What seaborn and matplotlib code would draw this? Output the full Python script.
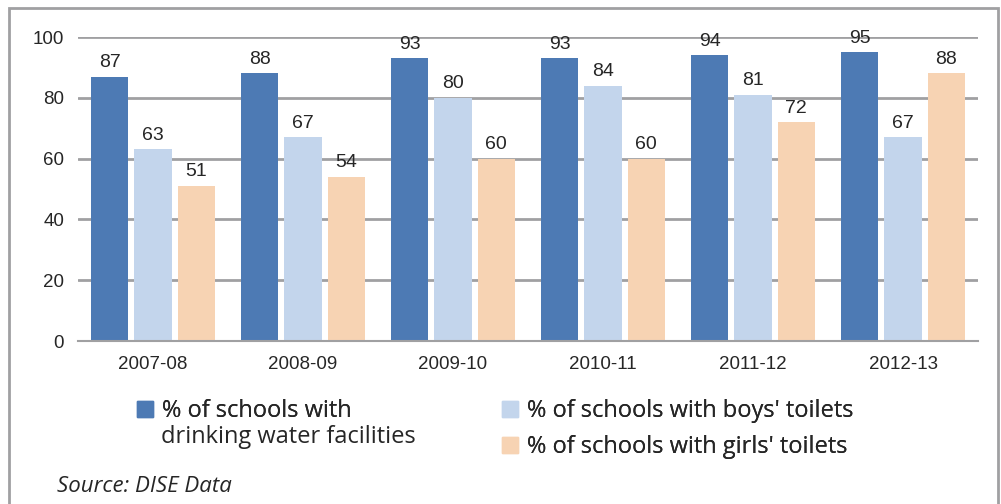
import pandas as pd
import matplotlib
matplotlib.use("Agg")
import matplotlib.pyplot as plt
from matplotlib.patches import Rectangle, Patch
import seaborn as sns

years = ['2007-08', '2008-09', '2009-10', '2010-11', '2011-12', '2012-13']
water = [87, 88, 93, 93, 94, 95]
boys = [63, 67, 80, 84, 81, 67]
girls = [51, 54, 60, 60, 72, 88]
series = ['% of schools with drinking water facilities',
          "% of schools with boys' toilets",
          "% of schools with girls' toilets"]
colors = ['#4D7AB4', '#C3D5EC', '#F7D3B3']

df = pd.DataFrame({
    'year': years * 3,
    'value': water + boys + girls,
    'series': [series[0]] * 6 + [series[1]] * 6 + [series[2]] * 6,
})

sns.set_style('white')
plt.rcParams['font.family'] = ['Liberation Sans', 'DejaVu Sans']

W, H = 1001, 504
fig = plt.figure(figsize=(W / 100, H / 100), dpi=100)
ax = fig.add_axes([78 / W, 1 - 341 / H, 900 / W, 304 / H])

sns.barplot(data=df, x='year', y='value', hue='series', palette=colors,
            width=0.865, gap=0.14, ax=ax, legend=False, saturation=1,
            linewidth=0, edgecolor='none')

for cont in ax.containers:
    ax.bar_label(cont, fmt='%d', padding=4, fontsize=14, clip_on=False)

ax.set_ylim(0, 100)
ax.set_xlim(-0.5, 5.5)
ax.set_yticks([0, 20, 40, 60, 80, 100])
ax.yaxis.grid(True, color='#A0A0A2', linewidth=2)
ax.set_axisbelow(True)
for s in ['left', 'right', 'top']:
    ax.spines[s].set_visible(False)
ax.spines['bottom'].set_color('#A0A0A2')
ax.spines['bottom'].set_linewidth(1.5)
ax.tick_params(axis='both', length=0, labelsize=13.5)
ax.tick_params(axis='x', pad=11)
ax.tick_params(axis='y', pad=10)
ax.set_xlabel('')
ax.set_ylabel('')

# legend: one entry per legend box so the layout follows the reference
leg_font = ['Open Sans', 'DejaVu Sans']
leg_pos = [(137, 411), (502, 411), (502, 447)]
leg_labels = ['% of schools with', series[1], series[2]]
for c, lab, (px, py) in zip(colors, leg_labels, leg_pos):
    lg = fig.legend([Patch(color=c)], [lab], loc='center left',
                    bbox_to_anchor=(px / W, 1 - py / H), frameon=False,
                    prop={'family': leg_font, 'size': 17},
                    handlelength=0.66, handleheight=0.66, handletextpad=0.38,
                    borderpad=0, borderaxespad=0)
    fig.add_artist(lg)
fig.text(161 / W, 1 - 437 / H, 'drinking water facilities',
         family=leg_font, fontsize=17, va='center', ha='left')

fig.text(57 / W, 1 - 487 / H, 'Source: DISE Data', fontsize=16,
         family=leg_font, style='italic', va='center', ha='left')

fig.patches.append(Rectangle((9 / W, -0.1), 989 / W, 1.1 - 8 / H,
                             transform=fig.transFigure, fill=False,
                             edgecolor='#A0A0A2', linewidth=2))

fig.savefig('out.png', dpi=100)
